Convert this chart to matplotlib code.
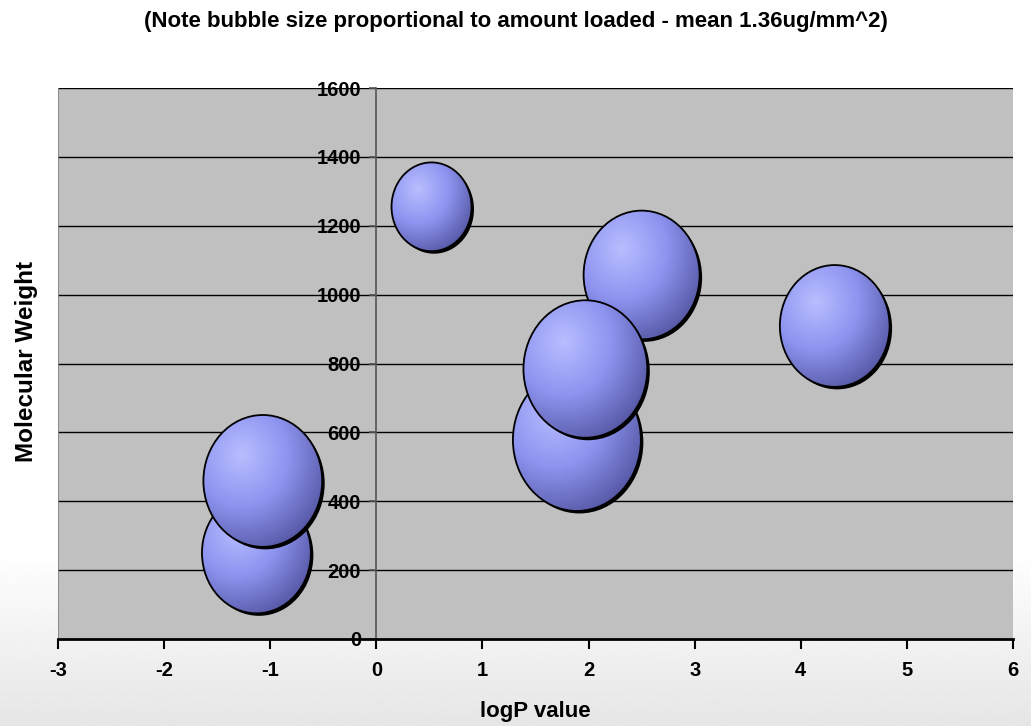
import numpy as np
import matplotlib
matplotlib.use("Agg")
import matplotlib.pyplot as plt
from matplotlib.patches import Ellipse
from matplotlib import font_manager

plt.rcParams['font.family'] = ['Liberation Sans', 'DejaVu Sans']
plt.rcParams['font.weight'] = 'bold'
plt.rcParams['axes.unicode_minus'] = False

names = {f.name for f in font_manager.fontManager.ttflist}
tick_family = ['Liberation Sans Narrow'] if 'Liberation Sans Narrow' in names else ['Liberation Sans']

# logP, molecular weight and amount loaded (ug/mm^2) per compound, in drawing order
logp = [0.52, 2.50, 4.32, 1.89, 1.97, -1.13, -1.07]
mol_weight = [1255, 1057, 909, 578, 784, 250, 459]
loaded = [0.68, 1.43, 1.28, 1.74, 1.63, 1.26, 1.50]

x_ticks = [-3, -2, -1, 0, 1, 2, 3, 4, 5, 6]
y_ticks = [0, 200, 400, 600, 800, 1000, 1200, 1400, 1600]

W, H = 1031, 726
fig = plt.figure(figsize=(W / 100, H / 100), dpi=100)

# white page fading to light grey towards the bottom
bg = fig.add_axes([0, 0, 1, 1], zorder=-10)
rows = np.linspace(0, 1, 400)
shade = np.where(rows < 0.76, 1.0, 1.0 - (rows - 0.76) / 0.24 * 0.1)
bg.imshow(np.repeat(shade[:, None], 2, axis=1), cmap='gray', vmin=0, vmax=1,
          aspect='auto', extent=[0, 1, 0, 1])
bg.axis('off')

ax = fig.add_axes([58 / W, (H - 639) / H, (1013 - 58) / W, (639 - 88) / H])
ax.set_xlim(-3, 6)
ax.set_ylim(0, 1600)
ax.set_facecolor('#c0c0c0')

for yv in y_ticks[1:]:
    ax.axhline(yv, color='black', lw=1.0, zorder=1)
ax.axvline(-3, color='#808080', lw=1.2, zorder=1)

ax.spines['top'].set_visible(False)
ax.spines['right'].set_visible(False)
ax.spines['left'].set_position(('data', 0))
ax.spines['left'].set_color('#555555')
ax.spines['left'].set_linewidth(1.2)
ax.spines['left'].set_zorder(1)
ax.spines['bottom'].set_linewidth(2)
ax.spines['bottom'].set_zorder(20)

ax.set_xticks(x_ticks)
ax.set_yticks(y_ticks)
ax.tick_params(axis='x', direction='out', length=7, width=1.5, pad=9)
ax.tick_params(axis='y', direction='out', length=5, width=1.2, color='#555555', pad=6)
for lab in ax.get_xticklabels() + ax.get_yticklabels():
    lab.set_family(tick_family)
    lab.set_fontsize(14.5)
    lab.set_fontweight('bold')
for lab in ax.get_yticklabels():
    lab.set_zorder(30)

ax.set_xlabel('logP value', fontsize=16, fontweight='bold', labelpad=15)
fig.text(27 / W, 1 - 361 / H, 'Molecular Weight', rotation=90, fontsize=17.5,
         fontweight='bold', ha='center', va='center')
fig.text(516 / W, 1 - 21 / H,
         '(Note bubble size proportional to amount loaded - mean 1.36ug/mm^2)',
         fontsize=16, fontweight='bold', ha='center', va='center')

# shaded bubbles, area proportional to amount loaded
fig.canvas.draw()
bbox = ax.get_window_extent()
sx = bbox.width / 9.0
sy = bbox.height / 1600.0
k = 48.5
stretch = 1.11

light = np.array([185, 190, 255]) / 255.0
mid = np.array([142, 148, 240]) / 255.0
dark = np.array([86, 88, 165]) / 255.0

n = 200
gx, gy = np.meshgrid(np.linspace(-1, 1, n), np.linspace(1, -1, n))
d = np.hypot(gx + 0.35, gy - 0.4) / 1.55
d = np.clip(d, 0, 1)
t1 = np.clip(d / 0.5, 0, 1)[..., None]
t2 = np.clip((d - 0.5) / 0.5, 0, 1)[..., None]
img = np.where(d[..., None] < 0.5, light + (mid - light) * t1, mid + (dark - mid) * t2)

for i, (xv, yv, s) in enumerate(zip(logp, mol_weight, loaded)):
    rx = k * np.sqrt(s) / sx
    ry = k * np.sqrt(s) * stretch / sy
    z = 5 + i * 3
    shadow = Ellipse((xv + 2.5 / sx, yv - 2.5 / sy), 2 * rx, 2 * ry,
                     facecolor='black', edgecolor='none', zorder=z)
    ax.add_patch(shadow)
    body = Ellipse((xv, yv), 2 * rx, 2 * ry, facecolor='none',
                   edgecolor='black', lw=1.3, zorder=z + 2)
    ax.add_patch(body)
    im = ax.imshow(img, extent=[xv - rx, xv + rx, yv - ry, yv + ry],
                   aspect='auto', zorder=z + 1, interpolation='bilinear')
    im.set_clip_path(body)

ax.set_xlim(-3, 6)
ax.set_ylim(0, 1600)

fig.savefig('out.png', dpi=100)
